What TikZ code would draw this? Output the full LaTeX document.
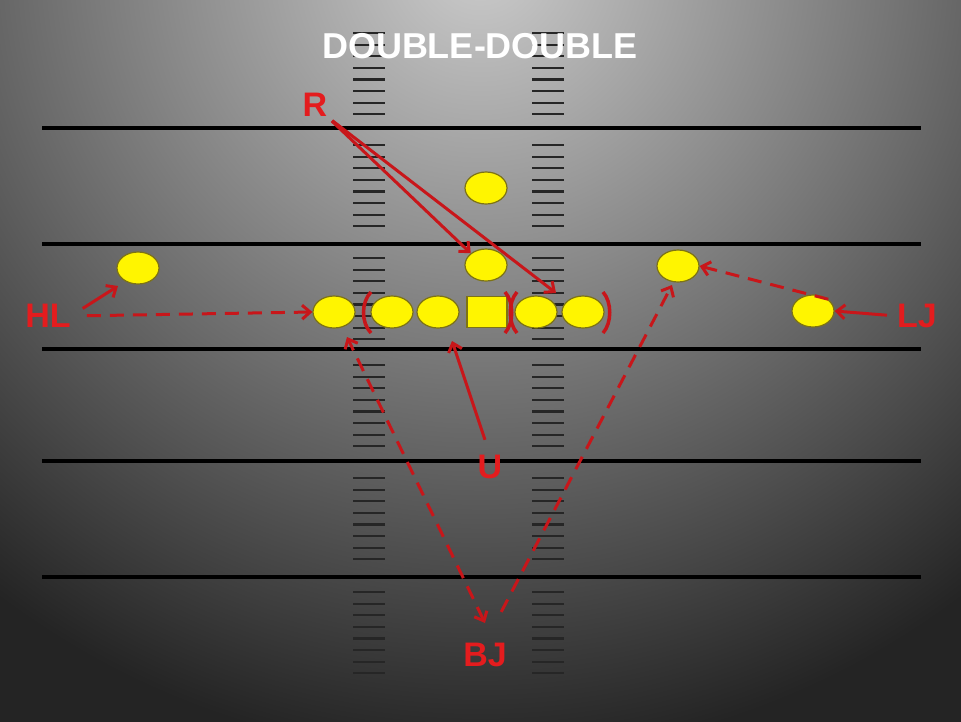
\documentclass[tikz,border=0pt]{standalone}
\usepackage{fontspec}
\setmainfont{Liberation Sans}
\usepackage{tikz}
\usetikzlibrary{shapes.geometric,arrows.meta}
\definecolor{playred}{RGB}{200,22,26}
\definecolor{labelred}{RGB}{228,28,30}
\definecolor{playeryellow}{RGB}{255,245,0}
\definecolor{playerrim}{RGB}{125,115,20}
\pgfdeclareradialshading{fieldglow}{\pgfpoint{0bp}{0bp}}{color(0bp)=(black!20); color(12.5bp)=(black!86); color(25bp)=(black!86); color(50bp)=(black!86)}

\begin{document}
\begin{tikzpicture}[
    x=1pt, y=-1pt,
    >={Straight Barb[length=8pt,width=14pt]},
    player/.style={ellipse, draw=playerrim, line width=1.2pt, fill=playeryellow, minimum width=42, minimum height=32, inner sep=0pt},
    centerbox/.style={rectangle, draw=playerrim, line width=1.2pt, fill=playeryellow, minimum width=40, minimum height=31, inner sep=0pt},
    playlabel/.style={text=labelred, font=\bfseries\fontsize{34}{36}\selectfont, inner sep=0pt},
    route/.style={->, draw=playred, line width=3pt},
    dashroute/.style={route, dash pattern=on 14pt off 9pt},
    yardline/.style={line width=4.5pt, black},
    hashmark/.style={line width=2.2pt, black!85},
    bracket/.style={draw=playred, line width=3.5pt}
    ]
    \useasboundingbox (0,0) rectangle (961,721);

    %Field
    \begin{scope}
        \clip (0,0) rectangle (961,721);
        \fill[black!86] (0,0) rectangle (961,721);
        \shade[shading=fieldglow] (480,-40) circle (1600);
    \end{scope}

    %Hash marks
    \foreach \hx in {369,548}
        \foreach \hy in {33,145,258,365,478,592}
            \foreach \k in {0,...,7}
                \draw[hashmark] ({\hx-16},{\hy+\k*11.6}) -- ({\hx+16},{\hy+\k*11.6});

    %Yard lines
    \foreach \ly in {128,244,349,461,577}
        \draw[yardline] (42,\ly) -- (921,\ly);

    \node[text=white, font=\bfseries\fontsize{36}{40}\selectfont] (title) at (480,46) {DOUBLE-DOUBLE};

    %Players
    \node[player]    (wingL)   at (138,268) {};
    \node[player]    (deep)    at (486,188) {};
    \node[player]    (mike)    at (486,265) {};
    \node[player]    (wingR)   at (678,266) {};
    \node[player]    (endL)    at (334,312) {};
    \node[player]    (tackleL) at (392,312) {};
    \node[player]    (guardL)  at (438,312) {};
    \node[centerbox] (center)  at (487,312) {};
    \node[player]    (guardR)  at (536,312) {};
    \node[player]    (tackleR) at (583,312) {};
    \node[player]    (endR)    at (813,311) {};

    %Brackets
    \draw[bracket] (371,292) .. controls (361,302) and (361,323) .. (371,333);
    \draw[bracket] (505,292) .. controls (514,302) and (514,323) .. (505,333);
    \draw[bracket] (517,292) .. controls (508,302) and (508,323) .. (517,333);
    \draw[bracket] (603,292) .. controls (612,302) and (612,323) .. (603,333);

    %Labels
    \node[playlabel] (R)  at (315,105) {R};
    \node[playlabel] (HL) at (48,316)  {HL};
    \node[playlabel] (LJ) at (917,316) {LJ};
    \node[playlabel] (U)  at (490,467) {U};
    \node[playlabel] (BJ) at (485,655) {BJ};

    %Tips
    \coordinate (rTip)    at (556,293);
    \coordinate (hlTip)   at (118,286);
    \coordinate (uTip)    at (452,341);
    \coordinate (bjUp)    at (347,337);
    \coordinate (bjDown)  at (485,623);
    \coordinate (bjRight) at (672,285);

    %Routes
    \draw[route, shorten <=6pt]      (R.south east) -- (mike.north west);
    \draw[route, shorten <=6pt]      (R.south east) -- (rTip);
    \draw[route, shorten <=14pt]     (HL.east) -- (hlTip);
    \draw[dashroute, shorten <=16pt] (HL.east) -- (endL.west);
    \draw[route, shorten <=10pt]     (LJ.west) -- (endR.east);
    \draw[dashroute] (endR.north east) -- (wingR.east);
    \draw[route, shorten <=16pt]     (U.north) -- (uTip);
    \draw[dashroute, <->] (bjDown) -- (bjUp);
    \draw[dashroute, shorten <=35pt] (BJ.north) -- (bjRight);

\end{tikzpicture}
\end{document}
